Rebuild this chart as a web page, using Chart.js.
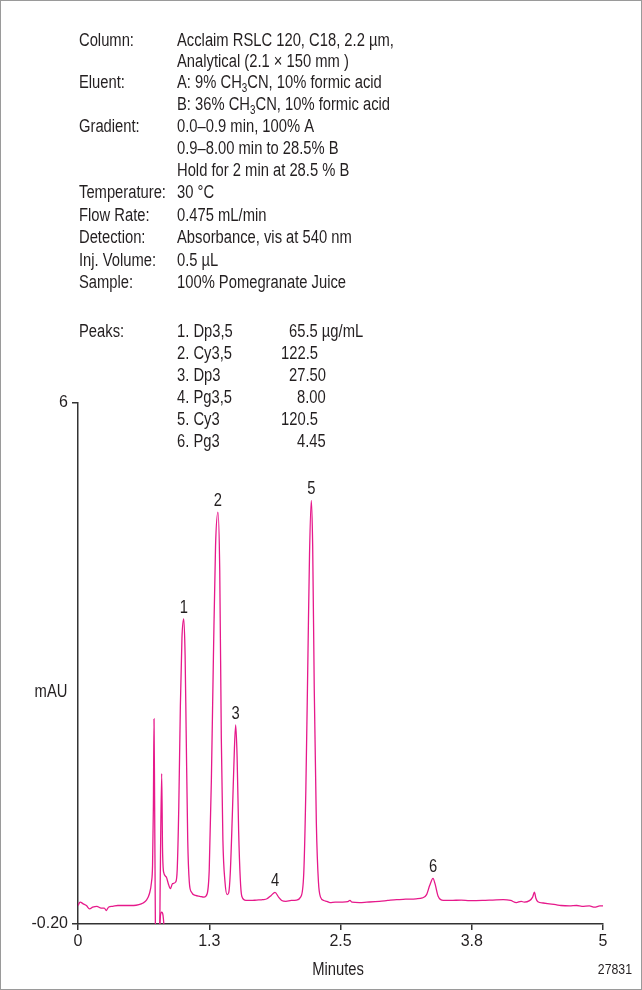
<!DOCTYPE html>
<html>
<head>
<meta charset="utf-8">
<script src="https://cdn.jsdelivr.net/npm/chart.js@4"></script>
<style>
  html, body { margin: 0; padding: 0; background: #fff; }
  canvas { display: block; }
</style>
</head>
<body>
<canvas id="chromChart" width="642" height="990"></canvas>
<script>
// Chromatogram trace (minutes, mAU)
const times = [
  0.00, 0.02, 0.05, 0.08, 0.11, 0.14, 0.18, 0.22, 0.25, 0.27, 0.29, 0.33, 0.38, 0.43, 0.48, 0.53,
  0.58, 0.62, 0.65, 0.68, 0.70, 0.71, 0.718, 0.724, 0.73, 0.737, 0.742, 0.775, 0.783, 0.797, 0.805,
  0.815, 0.84, 0.86, 0.88, 0.90, 0.93, 0.945, 0.96, 0.975, 0.99, 1.007, 1.02, 1.03, 1.045, 1.06,
  1.08, 1.12, 1.16, 1.20, 1.23, 1.25, 1.27, 1.29, 1.31, 1.333, 1.35, 1.365, 1.38, 1.40, 1.42,
  1.435, 1.45, 1.47, 1.49, 1.502, 1.515, 1.53, 1.545, 1.56, 1.60, 1.65, 1.70, 1.76, 1.80, 1.84,
  1.876, 1.91, 1.94, 1.98, 2.03, 2.08, 2.12, 2.15, 2.17, 2.19, 2.205, 2.222, 2.235, 2.25, 2.27,
  2.29, 2.31, 2.34, 2.37, 2.40, 2.45, 2.52, 2.57, 2.59, 2.61, 2.68, 2.75, 2.87, 2.95, 3.035,
  3.12, 3.22, 3.28, 3.32, 3.35, 3.381, 3.40, 3.43, 3.48, 3.55, 3.65, 3.73, 3.85, 3.95, 4.05,
  4.12, 4.175, 4.22, 4.25, 4.30, 4.33, 4.347, 4.36, 4.38, 4.43, 4.49, 4.55, 4.60, 4.68, 4.75,
  4.80, 4.87, 4.92, 4.97, 5.00
];
const absorbance = [
  0.02, 0.06, 0.04, 0.02, -0.02, 0.00, 0.01, -0.01, -0.01, -0.04, 0.00, 0.01, 0.02, 0.02, 0.02, 0.02,
  0.03, 0.05, 0.08, 0.16, 0.30, 0.50, 1.20, 2.24, 1.20, -0.20, -0.60, -0.60, 0.30, 1.59, 0.70,
  0.42, 0.36, 0.28, 0.22, 0.28, 0.30, 0.45, 1.20, 2.40, 3.20, 3.43, 3.00, 2.10, 0.80, 0.30,
  0.18, 0.14, 0.13, 0.12, 0.16, 0.45, 1.50, 3.00, 4.30, 4.70, 4.00, 2.00, 0.80, 0.30, 0.15,
  0.17, 0.40, 1.10, 1.90, 2.17, 1.80, 0.90, 0.35, 0.13, 0.08, 0.08, 0.085, 0.09, 0.10, 0.14,
  0.177, 0.12, 0.08, 0.07, 0.08, 0.085, 0.12, 0.40, 1.40, 3.00, 4.20, 4.84, 4.30, 2.60, 1.00,
  0.30, 0.12, 0.08, 0.07, 0.055, 0.06, 0.06, 0.065, 0.08, 0.06, 0.055, 0.06, 0.07, 0.08, 0.09,
  0.095, 0.10, 0.11, 0.15, 0.26, 0.344, 0.28, 0.13, 0.08, 0.08, 0.085, 0.078, 0.08, 0.085, 0.09,
  0.08, 0.055, 0.07, 0.06, 0.078, 0.12, 0.18, 0.11, 0.065, 0.05, 0.04, 0.03, 0.02, 0.015, 0.02,
  0.01, 0.015, 0.00, 0.015, 0.015
];

// small loop under the void spike
const humpTimes = [0.775, 0.785, 0.797, 0.81, 0.825];
const humpValues = [-0.35, -0.10, -0.06, -0.10, -0.35];

// peak apexes for the number labels
const peakNumbers = ['1', '2', '3', '4', '5', '6'];
const peakTimes = [1.007, 1.333, 1.502, 1.876, 2.222, 3.381];
const peakHeights = [3.43, 4.70, 2.17, 0.177, 4.84, 0.344];

const xTickValues = [0, 1.25, 2.5, 3.75, 5];
const xTickLabels = ['0', '1.3', '2.5', '3.8', '5'];
const yTickValues = [-0.2, 6];
const yTickLabels = ['-0.20', '6'];

const conditions = [
  ['Column:', 'Acclaim RSLC 120, C18, 2.2 µm,'],
  ['', 'Analytical (2.1 × 150 mm )'],
  ['Eluent:', 'A: 9% CH|3|CN, 10% formic acid'],
  ['', 'B: 36% CH|3|CN, 10% formic acid'],
  ['Gradient:', '0.0–0.9 min, 100% A'],
  ['', '0.9–8.00 min to 28.5% B'],
  ['', 'Hold for 2 min at 28.5 % B'],
  ['Temperature:', '30 °C'],
  ['Flow Rate:', '0.475 mL/min'],
  ['Detection:', 'Absorbance, vis at 540 nm'],
  ['Inj. Volume:', '0.5 µL'],
  ['Sample:', '100% Pomegranate Juice']
];
const conditionRows = [41, 62, 83, 105, 127, 149, 171, 193, 216, 238, 261, 283];

const peakNames = ['1. Dp3,5', '2. Cy3,5', '3. Dp3', '4. Pg3,5', '5. Cy3', '6. Pg3'];
const peakAmounts = ['65.5 µg/mL', '122.5', '27.50', '8.00', '120.5', '4.45'];
const peakAmountX = [289, 281, 289, 297, 281, 297];
const peakRows = [332, 354, 376, 398, 420, 442];

const TRACE = '#e6198b';
const INK = '#231f20';
const FONT = '"Liberation Sans", Arial, sans-serif';
const NARROW = 0.82; // squeeze Liberation Sans to look like the condensed face

function narrowText(ctx, text, x, y, size) {
  ctx.save();
  ctx.font = size + 'px ' + FONT;
  ctx.translate(x, y);
  ctx.scale(NARROW, 1);
  ctx.fillText(text, 0, 0);
  const w = ctx.measureText(text).width * NARROW;
  ctx.restore();
  return w;
}

function drawSubText(ctx, text, x, y) {
  // text with a |3| subscript part
  text.split('|').forEach((p, i) => {
    if (i % 2 === 1) {
      x += narrowText(ctx, p, x, y + 6, 12);
    } else {
      x += narrowText(ctx, p, x, y, 18);
    }
  });
}

const textPlugin = {
  id: 'chromText',
  afterDraw(chart) {
    const ctx = chart.ctx;
    const xs = chart.scales.x;
    const ys = chart.scales.y;
    ctx.save();
    ctx.fillStyle = INK;
    ctx.textBaseline = 'middle';
    ctx.textAlign = 'left';

    conditions.forEach((row, i) => {
      narrowText(ctx, row[0], 79, conditionRows[i], 18);
      drawSubText(ctx, row[1], 177, conditionRows[i]);
    });

    narrowText(ctx, 'Peaks:', 79, peakRows[0], 18);
    peakNames.forEach((name, i) => {
      narrowText(ctx, name, 177, peakRows[i], 18);
      narrowText(ctx, peakAmounts[i], peakAmountX[i], peakRows[i], 18);
    });

    // peak numbers above each apex
    ctx.textAlign = 'center';
    peakNumbers.forEach((n, i) => {
      narrowText(ctx, n, xs.getPixelForValue(peakTimes[i]), ys.getPixelForValue(peakHeights[i]) - 11, 18);
    });

    narrowText(ctx, 'mAU', 51, 692, 18);
    narrowText(ctx, 'Minutes', 338, 970, 18);
    ctx.textAlign = 'right';
    narrowText(ctx, '27831', 632, 970, 15);

    ctx.strokeStyle = '#9a9a9a';
    ctx.lineWidth = 1;
    ctx.strokeRect(0.5, 0.5, chart.width - 1, chart.height - 1);
    ctx.restore();
  }
};

function initChart() {
  const ctx = document.getElementById('chromChart').getContext('2d');
  new Chart(ctx, {
    type: 'line',
    data: {
      datasets: [
        {
          data: times.map((t, i) => ({ x: t, y: absorbance[i] })),
          borderColor: TRACE,
          borderWidth: 1.3,
          pointRadius: 0,
          tension: 0.3,
          cubicInterpolationMode: 'monotone'
        },
        {
          data: humpTimes.map((t, i) => ({ x: t, y: humpValues[i] })),
          borderColor: TRACE,
          borderWidth: 1.3,
          pointRadius: 0,
          tension: 0.4
        }
      ]
    },
    options: {
      responsive: false,
      animation: false,
      layout: { padding: { left: 22, right: 39, top: 403, bottom: 36 } },
      plugins: { legend: { display: false }, tooltip: { enabled: false } },
      scales: {
        x: {
          type: 'linear',
          min: 0,
          max: 5,
          afterBuildTicks: s => { s.ticks = xTickValues.map(v => ({ value: v })); },
          afterFit: s => { s.height = 30; },
          ticks: {
            autoSkip: false,
            maxRotation: 0,
            padding: 2,
            color: INK,
            font: { family: FONT, size: 16 },
            callback: (v, i) => xTickLabels[i]
          },
          grid: { drawOnChartArea: false, tickLength: 6, color: '#333', lineWidth: 1.5 },
          border: { color: '#333', width: 1.5 }
        },
        y: {
          type: 'linear',
          min: -0.2,
          max: 6,
          afterBuildTicks: s => { s.ticks = yTickValues.map(v => ({ value: v })); },
          afterFit: s => { s.width = 56; },
          ticks: {
            autoSkip: false,
            padding: 4,
            color: INK,
            font: { family: FONT, size: 16 },
            callback: (v, i) => yTickLabels[i]
          },
          grid: { drawOnChartArea: false, tickLength: 6, color: '#333', lineWidth: 1.5 },
          border: { color: '#333', width: 1.5 }
        }
      }
    },
    plugins: [textPlugin]
  });
}

document.addEventListener('DOMContentLoaded', initChart);
</script>
</body>
</html>
